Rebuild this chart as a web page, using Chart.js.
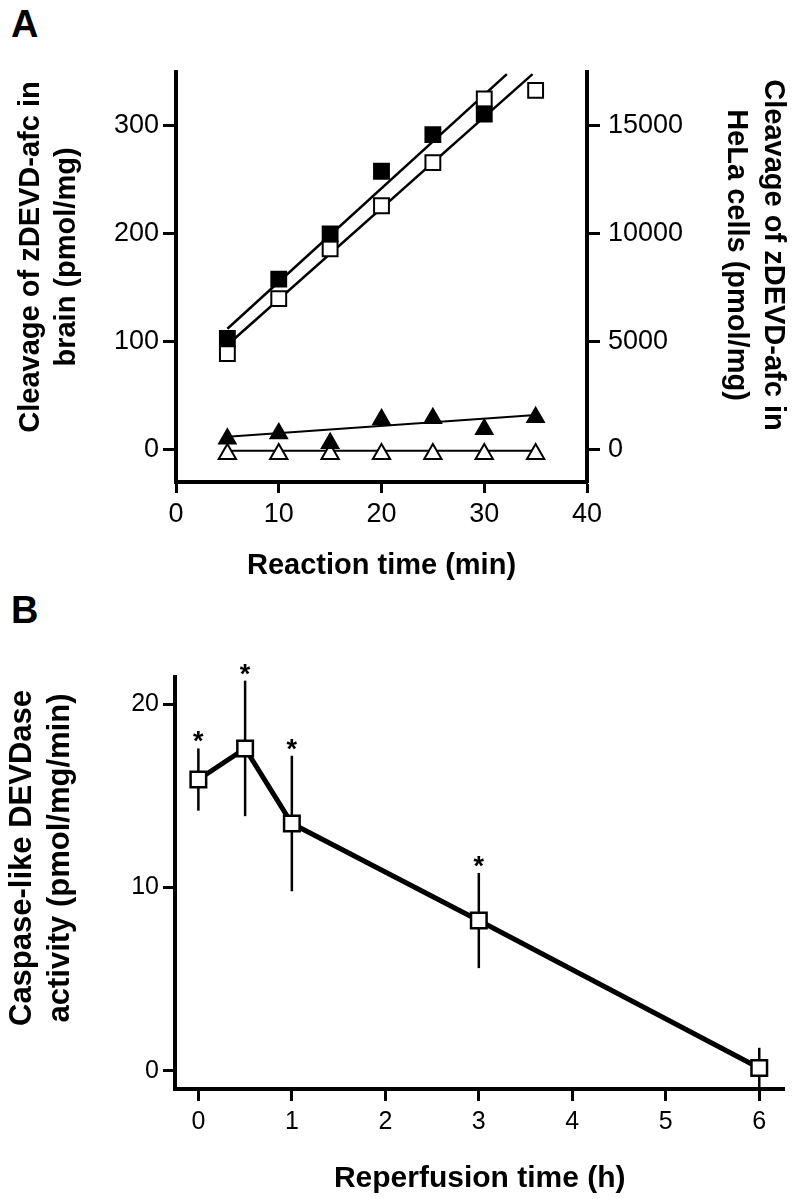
<!DOCTYPE html>
<html>
<head>
<meta charset="utf-8">
<script src="https://cdn.jsdelivr.net/npm/chart.js@4.4.0/dist/chart.umd.min.js"></script>
<style>
  body { margin: 0; background: #fff; width: 798px; height: 1199px; position: relative; overflow: hidden; font-family: "Liberation Sans", Arial, sans-serif; }
  .panel { position: absolute; font-weight: bold; font-size: 38px; line-height: 1; color: #000; }
  #boxA { position: absolute; left: 0; top: 0; }
  #boxB { position: absolute; left: 0; top: 600px; }
</style>
</head>
<body>
<div class="panel" style="left:11px;top:5px">A</div>
<div class="panel" style="left:11px;top:591px">B</div>
<div id="boxA"><canvas id="chartA" width="798" height="600"></canvas></div>
<div id="boxB"><canvas id="chartB" width="798" height="599"></canvas></div>
<script>
// panel A - reaction time course
const reactionMin = [5, 10, 15, 20, 25, 30, 35];
const helaFilled = [5150, 7900, 10000, 12900, 14600, 15550];
const helaOpen = [4450, 7000, 9300, 11300, 13300, 16250, 16650];
const brainFilled = [10, 15, 6, 28, 29, 19, 30];
const brainOpen = [-4, -4, -4, -4, -4, -4, -4];
// fitted lines (end points)
const fitHelaFilledX = [5, 32.2];
const fitHelaFilledY = [5600, 17400];
const fitHelaOpenX = [5, 34.7];
const fitHelaOpenY = [4850, 17400];
const fitBrainFilledX = [5, 35];
const fitBrainFilledY = [12, 32];
const fitBrainOpenX = [5, 35];
const fitBrainOpenY = [-1, -1];
const ticksTime = [0, 10, 20, 30, 40];
const ticksBrain = [0, 100, 200, 300];
const ticksHela = [0, 5000, 10000, 15000];
const titleBrain = ['Cleavage of zDEVD-afc in', 'brain (pmol/mg)'];
const titleHela = ['Cleavage of zDEVD-afc in', 'HeLa cells (pmol/mg)'];

// panel B - reperfusion
const reperfH = [0, 0.5, 1, 3, 6];
const activity = [15.9, 17.6, 13.5, 8.2, 0.15];
const activitySem = [1.7, 3.7, 3.7, 2.6, 1.1];
const signif = ['*', '*', '*', '*', ''];
const ticksReperf = [0, 1, 2, 3, 4, 5, 6];
const ticksActivity = [0, 10, 20];
const titleActivity = ['Caspase-like DEVDase', 'activity (pmol/mg/min)'];

const FONT = '"Liberation Sans", Arial, sans-serif';

function pts(xs, ys) {
  return ys.map((v, i) => ({ x: xs[i], y: v }));
}
function fixTicks(arr) {
  return function (scale) { scale.ticks = arr.map(v => ({ value: v })); };
}
function axisGrid(len) {
  return { drawOnChartArea: false, drawTicks: true, tickLength: len, tickWidth: 3, tickColor: '#000', color: '#000' };
}

// y axis titles, two lines, sitting a bit above the axis middle like the original
function sideTitles(list) {
  return {
    id: 'sideTitles',
    afterDraw(chart) {
      const ctx = chart.ctx;
      list.forEach(t => {
        const s = chart.scales[t.axis];
        const left = s.position === 'left';
        const cy = (s.top + s.bottom) / 2 - t.shift;
        ctx.save();
        ctx.font = 'bold ' + t.size + 'px ' + FONT;
        ctx.fillStyle = '#000';
        ctx.textAlign = 'center';
        ctx.textBaseline = 'middle';
        t.lines.forEach((line, i) => {
          const x = left ? s.left + t.first + i * t.gap : s.right - t.first - i * t.gap;
          ctx.save();
          ctx.translate(x, cy);
          ctx.rotate(left ? -Math.PI / 2 : Math.PI / 2);
          ctx.fillText(line, 0, 0);
          ctx.restore();
        });
        ctx.restore();
      });
    }
  };
}

// ---------- chart A ----------
new Chart(document.getElementById('chartA').getContext('2d'), {
  type: 'scatter',
  data: {
    datasets: [
      { data: pts(reactionMin, helaFilled), yAxisID: 'y2', pointStyle: 'rect', pointRadius: 10.5, backgroundColor: '#000', borderColor: '#000', borderWidth: 2 },
      { data: pts(reactionMin, helaOpen), yAxisID: 'y2', pointStyle: 'rect', pointRadius: 10.5, backgroundColor: '#fff', borderColor: '#000', borderWidth: 2 },
      { data: pts(reactionMin, brainFilled), yAxisID: 'y', pointStyle: 'triangle', pointRadius: 10, backgroundColor: '#000', borderColor: '#000', borderWidth: 1.5 },
      { data: pts(reactionMin, brainOpen), yAxisID: 'y', pointStyle: 'triangle', pointRadius: 10, backgroundColor: '#fff', borderColor: '#000', borderWidth: 2 },
      { data: pts(fitHelaFilledX, fitHelaFilledY), yAxisID: 'y2', showLine: true, pointRadius: 0, borderColor: '#000', borderWidth: 2.5 },
      { data: pts(fitHelaOpenX, fitHelaOpenY), yAxisID: 'y2', showLine: true, pointRadius: 0, borderColor: '#000', borderWidth: 2.5 },
      { data: pts(fitBrainFilledX, fitBrainFilledY), yAxisID: 'y', showLine: true, pointRadius: 0, borderColor: '#000', borderWidth: 2 },
      { data: pts(fitBrainOpenX, fitBrainOpenY), yAxisID: 'y', showLine: true, pointRadius: 0, borderColor: '#000', borderWidth: 2 }
    ]
  },
  plugins: [sideTitles([
    { axis: 'y', lines: titleBrain, size: 29, first: 31, gap: 36, shift: 20 },
    { axis: 'y2', lines: titleHela, size: 29, first: 25, gap: 37, shift: 22 }
  ])],
  options: {
    responsive: false,
    animation: false,
    layout: { padding: { top: 72, left: 0, right: 0, bottom: 0 } },
    plugins: { legend: { display: false }, tooltip: { enabled: false } },
    scales: {
      x: {
        type: 'linear', position: 'bottom', min: 0, max: 40,
        afterBuildTicks: fixTicks(ticksTime),
        afterFit: s => { s.height = 118; },
        grid: axisGrid(11),
        border: { display: true, width: 4, color: '#000' },
        ticks: { color: '#000', font: { family: FONT, size: 27 }, padding: 5, maxRotation: 0 },
        title: { display: true, text: 'Reaction time (min)', color: '#000', font: { family: FONT, size: 29, weight: 'bold' }, padding: { top: 0, bottom: 17 } }
      },
      y: {
        type: 'linear', position: 'left', min: -30, max: 350,
        afterBuildTicks: fixTicks(ticksBrain),
        afterFit: s => { s.width = 176; },
        grid: axisGrid(13),
        border: { display: true, width: 4, color: '#000' },
        ticks: { color: '#000', font: { family: FONT, size: 27 }, padding: 4 }
      },
      y2: {
        type: 'linear', position: 'right', min: -1500, max: 17500,
        afterBuildTicks: fixTicks(ticksHela),
        afterFit: s => { s.width = 211; },
        grid: axisGrid(13),
        border: { display: true, width: 4, color: '#000' },
        ticks: { color: '#000', font: { family: FONT, size: 27 }, padding: 8, callback: v => String(v) }
      }
    }
  }
});

// ---------- chart B ----------
const errorBars = {
  id: 'errorBars',
  beforeDatasetsDraw(chart) {
    const ctx = chart.ctx;
    const x = chart.scales.x, y = chart.scales.y;
    ctx.save();
    ctx.strokeStyle = '#000';
    ctx.lineWidth = 2.5;
    ctx.fillStyle = '#000';
    ctx.font = 'bold 27px ' + FONT;
    ctx.textAlign = 'center';
    ctx.textBaseline = 'alphabetic';
    for (let i = 0; i < reperfH.length; i++) {
      const px = x.getPixelForValue(reperfH[i]);
      const top = y.getPixelForValue(activity[i] + activitySem[i]);
      const bot = y.getPixelForValue(activity[i] - activitySem[i]);
      ctx.beginPath();
      ctx.moveTo(px, top);
      ctx.lineTo(px, bot);
      ctx.stroke();
      if (signif[i]) ctx.fillText(signif[i], px, top + 2);
    }
    ctx.restore();
  }
};

new Chart(document.getElementById('chartB').getContext('2d'), {
  type: 'scatter',
  data: {
    datasets: [{
      data: pts(reperfH, activity),
      showLine: true,
      borderColor: '#000',
      borderWidth: 5,
      pointStyle: 'rect',
      pointRadius: 11,
      pointBackgroundColor: '#fff',
      pointBorderColor: '#000',
      pointBorderWidth: 2.5
    }]
  },
  plugins: [errorBars, sideTitles([
    { axis: 'y', lines: titleActivity, size: 31, first: 22, gap: 38, shift: 25 }
  ])],
  options: {
    responsive: false,
    animation: false,
    layout: { padding: { top: 77, left: 0, right: 5, bottom: 0 } },
    plugins: { legend: { display: false }, tooltip: { enabled: false } },
    scales: {
      x: {
        type: 'linear', position: 'bottom', min: -0.25, max: 6.27,
        afterBuildTicks: fixTicks(ticksReperf),
        afterFit: s => { s.height = 110; },
        grid: axisGrid(12),
        border: { display: true, width: 4, color: '#000' },
        ticks: { color: '#000', font: { family: FONT, size: 25 }, padding: 6, maxRotation: 0 },
        title: { display: true, text: 'Reperfusion time (h)', color: '#000', font: { family: FONT, size: 30, weight: 'bold' }, padding: { top: 0, bottom: 2 } }
      },
      y: {
        type: 'linear', position: 'left', min: -1, max: 21.5,
        afterBuildTicks: fixTicks(ticksActivity),
        afterFit: s => { s.width = 175; },
        grid: axisGrid(12),
        border: { display: true, width: 4, color: '#000' },
        ticks: { color: '#000', font: { family: FONT, size: 25 }, padding: 4 }
      }
    }
  }
});
</script>
</body>
</html>
